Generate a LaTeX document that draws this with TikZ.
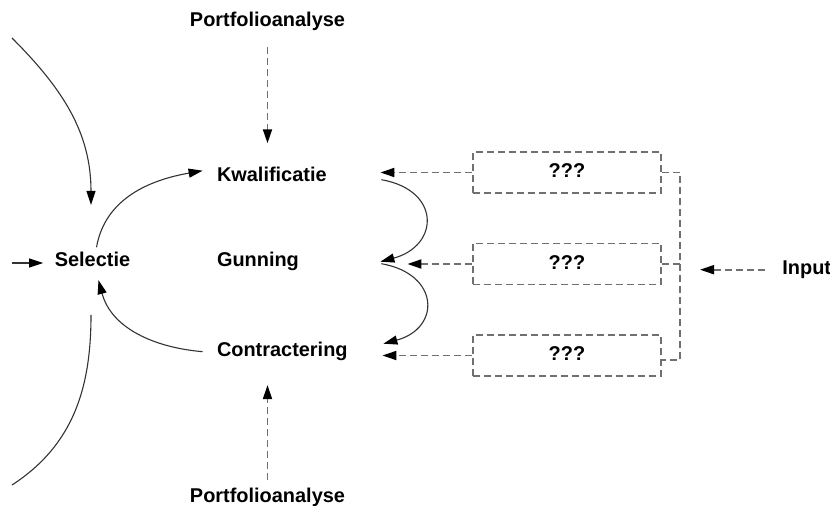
\documentclass[tikz,border=0pt]{standalone}
\usepackage{fontspec}
\setmainfont{Liberation Sans}
\usetikzlibrary{arrows.meta,calc}
\definecolor{linegray}{HTML}{333333}
\definecolor{dashgray}{HTML}{707070}

\begin{document}
\begin{tikzpicture}[x=0.5bp,y=0.5bp,
  lbl/.style={font=\bfseries\fontsize{10}{12}\selectfont, inner sep=0pt,
              text height=7.5bp, text depth=2.2bp},
  stage/.style={lbl, text width=74.5bp, inner xsep=7bp, align=left,
                minimum height=33bp},
  qbox/.style={lbl, draw=dashgray, line width=0.9bp,
               dash pattern=on 3.5bp off 2bp,
               minimum width=94bp, minimum height=20.5bp},
  headtri/.style={-{Triangle[length=7bp,width=4.5bp,color=black]}},
  sline/.style={draw=linegray, line width=0.55bp},
  flow/.style={sline, headtri},
  dline/.style={draw=dashgray, line width=0.9bp, dash pattern=on 3.5bp off 2bp},
  dflow/.style={dline, headtri}]
\useasboundingbox (0,0) rectangle (830,-506);

% labels
\node[lbl, anchor=base, inner ysep=7.8bp] (pt1) at (267.5,-27) {Portfolioanalyse};
\node[lbl, anchor=base, inner ysep=4bp]   (pt2) at (267.5,-503) {Portfolioanalyse};
\node[stage] (kw) at (291.5,-176.7) {Kwalificatie};
\node[stage] (gu) at (291.5,-261.7) {Gunning};
\node[stage] (co) at (291.5,-351.7) {Contractering};
\node[lbl, minimum width=49bp, minimum height=16bp] (sel) at (92.5,-261.7) {Selectie};
\node[lbl, anchor=base west] (inp) at (782,-275) {Input};

% dashed boxes
\node[qbox] (b1) at (567,-172.5) {???};
\node[qbox] (b2) at (567,-264)   {???};
\node[qbox] (b3) at (567,-355.5) {???};

% free ends
\coordinate (t1) at (12,-38);
\coordinate (t2) at (91,-205);
\coordinate (u1) at (91,-315);
\coordinate (u2) at (12,-485);
\coordinate (in0) at (12,-263);
\coordinate (rail) at (680,-266);

% solid connectors
\draw[flow] (in0) -- (in0 -| sel.west);
\draw[flow] (t1) to[out=-45,in=90] (t2);
\draw[sline] (u1) to[out=-90,in=33] (u2);
\draw[flow] ($(sel.north)+(4,-2)$) to[out=80,in=190] ($(kw.west)+(0,6)$);
\draw[flow] (co.west) to[out=175,in=-75] ($(sel.south)+(6,-2)$);
\draw[flow] ($(kw.east)+(1,-3)$) to[out=-10,in=15,looseness=1.9] (gu.east);
\draw[flow] ($(gu.east)+(1,-2)$) to[out=-10,in=15,looseness=1.9] ($(co.east)+(3,8)$);

% dashed connectors
\draw[dflow] (pt1.south) -- (pt1.south |- kw.north);
\draw[dflow] (pt2.north) -- (pt2.north |- co.south);
\draw[dflow] (b1.west) -- (b1.west -| kw.east);
\draw[dflow] (b2.west) -- ($(b2.west -| gu.east)+(27,0)$);
\draw[dflow] (b3.west) -- ($(b3.west -| co.east)+(2,0)$);
\draw[dline] (b1.east) -| (rail) |- ($(b3.east)+(0,-4.5)$);
\draw[dline] (b2.east) -- (b2.east -| rail);
\draw[dflow] ($(inp.west)+(-17,0)$) -- ($(inp.west -| rail)+(20,0)$);
\end{tikzpicture}
\end{document}
